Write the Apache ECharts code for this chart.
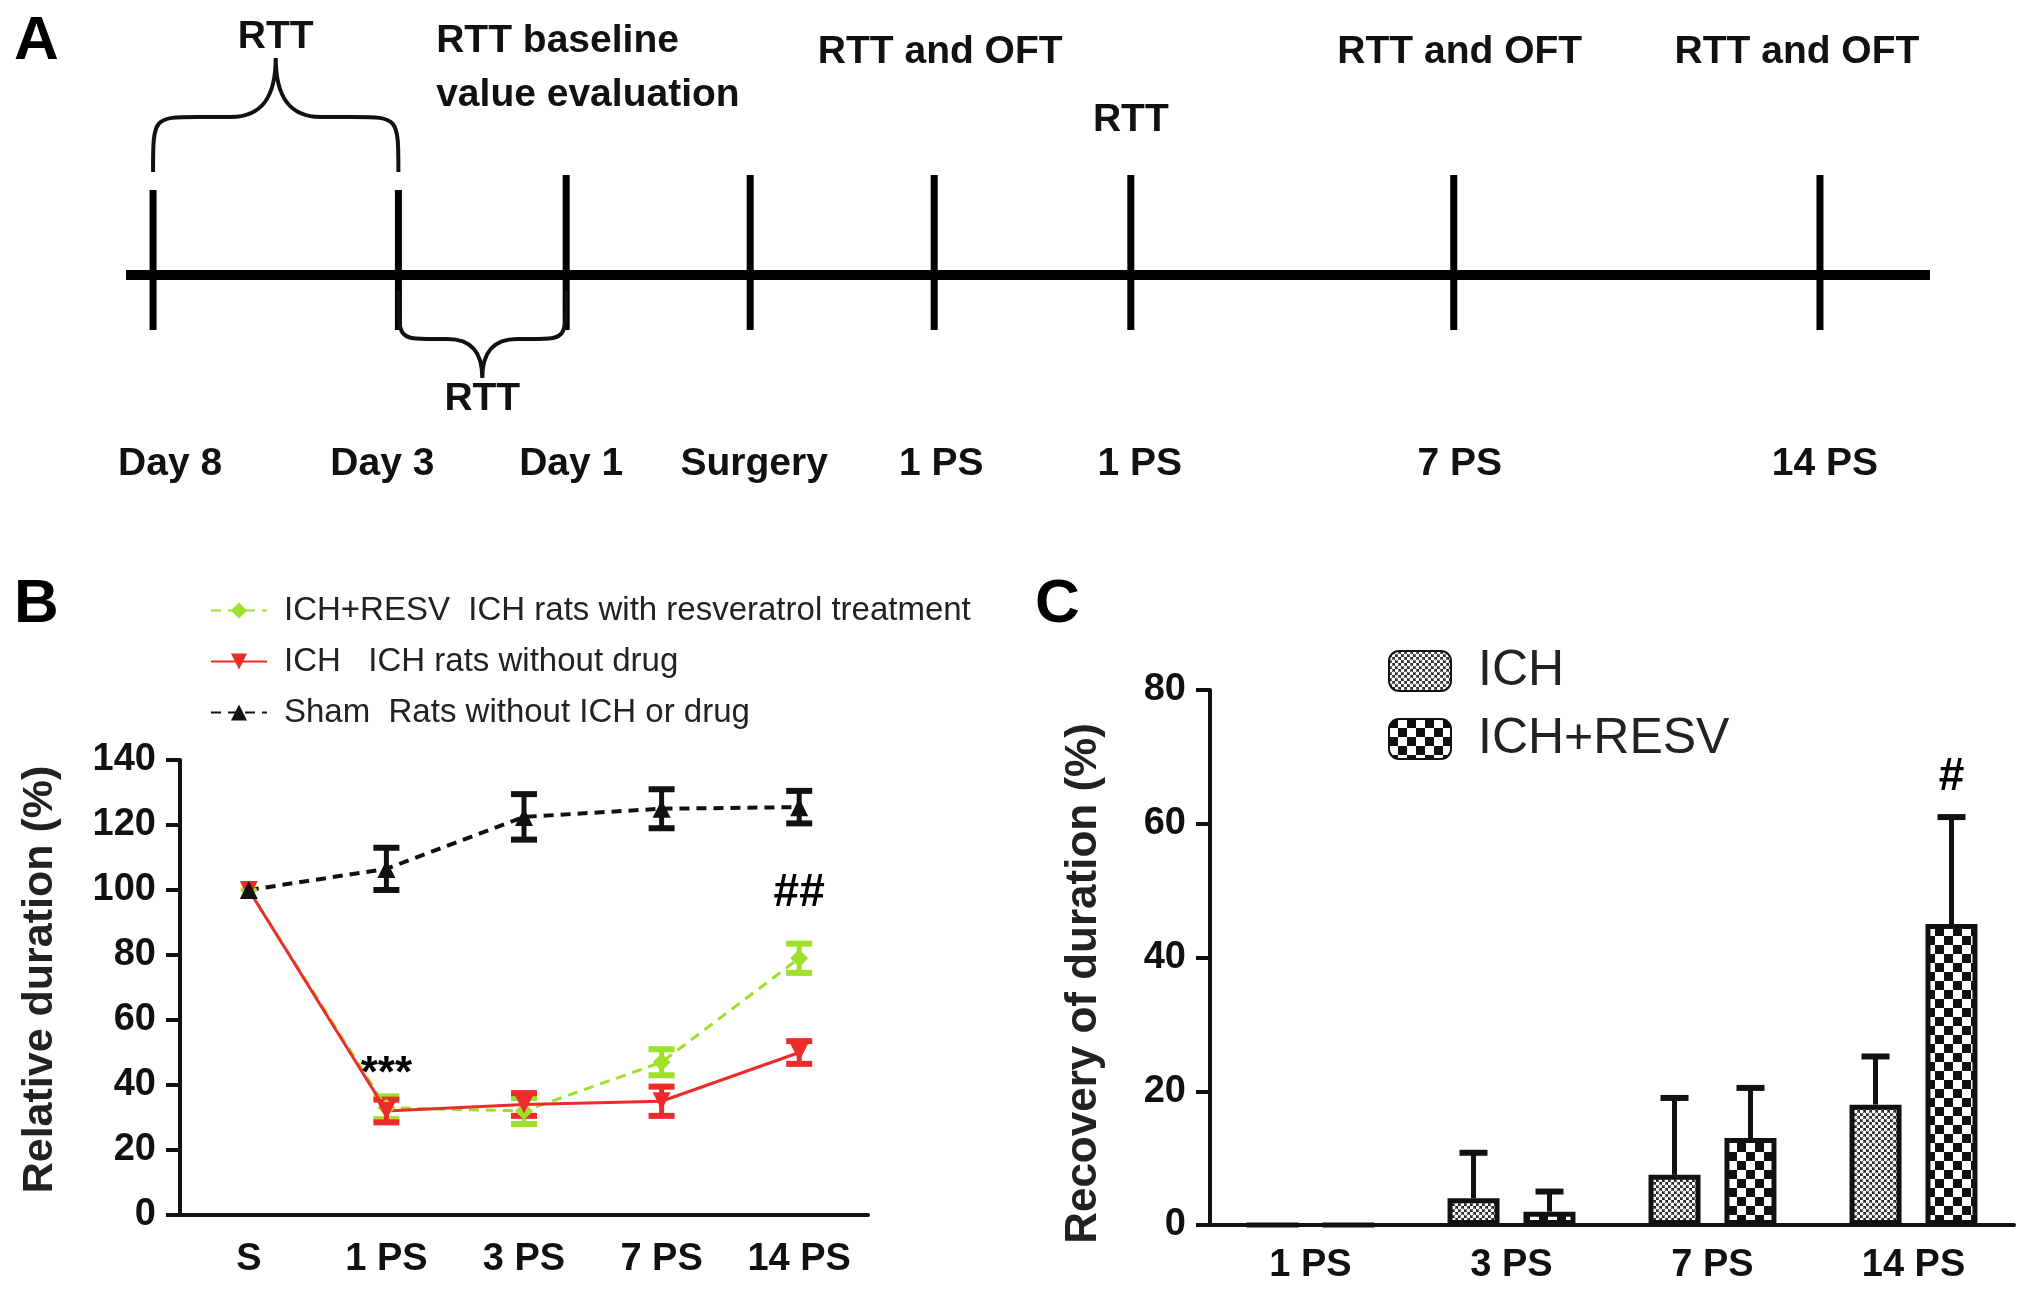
<!DOCTYPE html>
<html>
<head>
<meta charset="utf-8">
<script src="https://cdn.jsdelivr.net/npm/echarts@6/dist/echarts.min.js"></script>
<style>
  html, body { margin: 0; background: #fff; }
  #main { width: 2031px; height: 1293px; }
</style>
</head>
<body>
<div id="main"></div>
<script>
// ---- panel A: experiment timeline (position along the line, 0..100) ----
const timelinePos = [1.5, 15.1, 24.4, 34.6, 44.8, 55.7, 73.6, 93.9];
const timelineLabels = ['Day 8', 'Day 3', 'Day 1', 'Surgery', '1 PS', '1 PS', '7 PS', '14 PS'];
const noteAt = [2, 4, 5, 6, 7];
const noteText = ['RTT baseline\nvalue evaluation', 'RTT and OFT', 'RTT', 'RTT and OFT', 'RTT and OFT'];
const braceFrom = [0, 1];
const braceTo = [1, 2];
const braceSide = [1, -1]; // 1 = above the line, -1 = below
const braceText = ['RTT', 'RTT'];

// ---- panel B: relative duration (%) ----
const categoriesB = ['S', '1 PS', '3 PS', '7 PS', '14 PS'];
const resvMean = [100, 33, 32, 47, 79];
const resvSD = [0, 3.5, 4, 4, 4.5];
const ichMean = [100, 32, 34, 35, 50];
const ichSD = [0, 3.5, 3.5, 4.5, 3.5];
const shamMean = [100, 106.5, 122.5, 125, 125.5];
const shamSD = [0, 6.5, 7, 6, 5];

// ---- panel C: recovery of duration (%) ----
const categoriesC = ['1 PS', '3 PS', '7 PS', '14 PS'];
const ichRec = [0, 4, 7.5, 18];
const ichRecSD = [0, 6.8, 11.5, 7.2];
const resvRec = [0, 2, 13, 45];
const resvRecSD = [0, 3, 7.5, 16];

const FONT = '"Liberation Sans", Arial, sans-serif';
const INK = '#111';
const GREEN = '#9ee02a';
const RED = '#ee2b2b';

// small nudges of the timeline texts (px), the original figure is hand-placed
const labelShift = [17, -16, 5, 4, 7, 9, 6, 5];
const noteShift = [0, 6, 0, 6, -23];

// fill patterns for the bars
function dotPattern() {
    const c = document.createElement('canvas');
    c.width = 6; c.height = 6;
    const g = c.getContext('2d');
    g.fillStyle = '#2a2a2a';
    g.fillRect(0, 0, 6, 6);
    g.fillStyle = '#fff';
    [[1.5, 1.5], [4.5, 4.5]].forEach(function (p) {
        g.beginPath(); g.arc(p[0], p[1], 1.9, 0, Math.PI * 2); g.fill();
    });
    return c;
}
function checkPattern() {
    const c = document.createElement('canvas');
    c.width = 18; c.height = 18;
    const g = c.getContext('2d');
    g.fillStyle = '#fff';
    g.fillRect(0, 0, 18, 18);
    g.fillStyle = '#111';
    g.fillRect(0, 0, 9, 9);
    g.fillRect(9, 9, 9, 9);
    return c;
}

function errorBarsB(name, means, sds, color) {
    return {
        type: 'custom', name: name, xAxisIndex: 1, yAxisIndex: 1, silent: true, z: 3,
        data: means.map((m, i) => [i, m, sds[i]]),
        renderItem: function (params, api) {
            const i = api.value(0), m = api.value(1), s = api.value(2);
            if (!s) return;
            const t = api.coord([i, m + s]), b = api.coord([i, m - s]);
            const hw = 13;
            return {
                type: 'group', children: [
                    { type: 'line', shape: { x1: t[0], y1: t[1], x2: b[0], y2: b[1] }, style: { stroke: color, lineWidth: 5 } },
                    { type: 'line', shape: { x1: t[0] - hw, y1: t[1], x2: t[0] + hw, y2: t[1] }, style: { stroke: color, lineWidth: 6 } },
                    { type: 'line', shape: { x1: b[0] - hw, y1: b[1], x2: b[0] + hw, y2: b[1] }, style: { stroke: color, lineWidth: 6 } }
                ]
            };
        }
    };
}

function errorBarsC(means, sds, side) {
    return {
        type: 'custom', xAxisIndex: 2, yAxisIndex: 2, silent: true, z: 3,
        data: means.map((m, i) => [i, m, sds[i]]),
        renderItem: function (params, api) {
            const i = api.value(0), m = api.value(1), s = api.value(2);
            if (!s) return;
            const t = api.coord([i, m + s]), b = api.coord([i, m]);
            const x = t[0] + side * 38;
            return {
                type: 'group', children: [
                    { type: 'line', shape: { x1: x, y1: t[1], x2: x, y2: b[1] }, style: { stroke: INK, lineWidth: 5 } },
                    { type: 'line', shape: { x1: x - 14, y1: t[1], x2: x + 14, y2: t[1] }, style: { stroke: INK, lineWidth: 6 } }
                ]
            };
        }
    };
}

function markText(text, size) {
    return { show: true, formatter: text, position: 'inside', fontSize: size, fontWeight: 'bold', color: '#000', fontFamily: FONT, opacity: 1 };
}

const tickFont = { fontSize: 38, fontWeight: 'bold', color: INK, fontFamily: FONT };

let options = {
    animation: false,
    backgroundColor: '#fff',
    title: [
        { text: 'A', left: 9, top: 6 },
        { text: 'B', left: 9, top: 569 },
        { text: 'C', left: 1030, top: 569 }
    ].map(t => Object.assign(t, { textStyle: { fontSize: 62, fontWeight: 'bold', color: '#000', fontFamily: FONT } })),
    legend: [
        {
            orient: 'vertical', left: 205, top: 586,
            itemWidth: 56, itemHeight: 20, itemGap: 12,
            textStyle: { fontSize: 33, color: '#222', fontFamily: FONT, lineHeight: 39, padding: [0, 0, 0, 12] },
            data: ['ICH+RESV  ICH rats with resveratrol treatment', 'ICH   ICH rats without drug', 'Sham  Rats without ICH or drug']
        },
        {
            orient: 'vertical', left: 1383, top: 641,
            itemWidth: 62, itemHeight: 40, itemGap: 18, icon: 'roundRect',
            textStyle: { fontSize: 50, color: '#222', fontFamily: FONT, lineHeight: 44, padding: [0, 0, 0, 22] },
            data: ['ICH', 'ICH+RESV']
        }
    ],
    grid: [
        { left: 126, width: 1804, top: 0, height: 500 },
        { left: 180, width: 688, top: 760, height: 455 },
        { left: 1210, width: 804, top: 690, height: 535 }
    ],
    xAxis: [
        { gridIndex: 0, type: 'value', min: 0, max: 100, show: false },
        {
            gridIndex: 1, type: 'category', data: categoriesB, boundaryGap: true,
            axisLine: { lineStyle: { color: INK, width: 4 } },
            axisTick: { alignWithLabel: true, length: 14, lineStyle: { color: INK, width: 4 } },
            axisLabel: Object.assign({ margin: 26 }, tickFont)
        },
        {
            gridIndex: 2, type: 'category', data: categoriesC, boundaryGap: true,
            axisLine: { lineStyle: { color: INK, width: 4 } },
            axisTick: { alignWithLabel: true, length: 14, lineStyle: { color: INK, width: 4 } },
            axisLabel: Object.assign({ margin: 22 }, tickFont)
        }
    ],
    yAxis: [
        { gridIndex: 0, type: 'value', min: -2.25, max: 2.75, show: false },
        {
            gridIndex: 1, type: 'value', min: 0, max: 140, interval: 20,
            name: 'Relative duration (%)', nameLocation: 'middle', nameGap: 118,
            nameTextStyle: { fontSize: 43, fontWeight: 'bold', color: '#222', fontFamily: FONT, padding: [0, 0, 0, 16] },
            axisLine: { show: true, lineStyle: { color: INK, width: 4 } },
            axisTick: { show: true, length: 14, lineStyle: { color: INK, width: 4 } },
            splitLine: { show: false },
            axisLabel: Object.assign({ margin: 24 }, tickFont)
        },
        {
            gridIndex: 2, type: 'value', min: 0, max: 80, interval: 20,
            name: 'Recovery of duration (%)', nameLocation: 'middle', nameGap: 104,
            nameTextStyle: { fontSize: 44, fontWeight: 'bold', color: '#222', fontFamily: FONT, padding: [0, 52, 0, 0] },
            axisLine: { show: true, lineStyle: { color: INK, width: 4 } },
            axisTick: { show: true, length: 14, lineStyle: { color: INK, width: 4 } },
            splitLine: { show: false },
            axisLabel: Object.assign({ margin: 24 }, tickFont)
        }
    ],
    series: [
        // timeline bar
        {
            type: 'custom', xAxisIndex: 0, yAxisIndex: 0, silent: true,
            data: [[0, 100]],
            renderItem: function (params, api) {
                const a = api.coord([api.value(0), 0]), b = api.coord([api.value(1), 0]);
                return { type: 'line', shape: { x1: a[0], y1: a[1], x2: b[0], y2: b[1] }, style: { stroke: '#000', lineWidth: 10 } };
            }
        },
        // timeline ticks + day labels
        {
            type: 'custom', xAxisIndex: 0, yAxisIndex: 0, silent: true,
            data: timelinePos.map(p => [p, 0]),
            renderItem: function (params, api) {
                const i = params.dataIndex;
                const p = api.coord([api.value(0), 0]);
                const up = i < 2 ? 85 : 100;
                return {
                    type: 'group', children: [
                        { type: 'line', shape: { x1: p[0], y1: p[1] - up, x2: p[0], y2: p[1] + 55 }, style: { stroke: '#000', lineWidth: 7 } },
                        { type: 'text', x: p[0] + labelShift[i], y: p[1] + 189, style: { text: timelineLabels[i], fontSize: 39, fontWeight: 'bold', fontFamily: FONT, fill: INK, align: 'center', verticalAlign: 'middle' } }
                    ]
                };
            }
        },
        // braces
        {
            type: 'custom', xAxisIndex: 0, yAxisIndex: 0, silent: true,
            data: braceFrom.map((f, k) => [timelinePos[f], timelinePos[braceTo[k]], braceSide[k]]),
            renderItem: function (params, api) {
                const a = api.coord([api.value(0), 0]), b = api.coord([api.value(1), 0]);
                const up = api.value(2) > 0;
                const s = up ? -1 : 1;
                const base = a[1];
                const yE = base + s * (up ? 103 : 16);
                const yF = base + s * (up ? 158 : 64);
                const yP = base + s * (up ? 217 : 103);
                const dh = Math.abs(yP - yF);
                const x0 = a[0], x1 = b[0], xm = (x0 + x1) / 2;
                const q = up ? 45 : 35, p = up ? 45 : 35;
                const mid = yF + s * dh * 0.35;
                const d = 'M' + x0 + ',' + yE +
                    ' C' + x0 + ',' + yF + ' ' + x0 + ',' + yF + ' ' + (x0 + q) + ',' + yF +
                    ' L' + (xm - p) + ',' + yF +
                    ' C' + (xm - p * 0.3) + ',' + yF + ' ' + xm + ',' + mid + ' ' + xm + ',' + yP +
                    ' C' + xm + ',' + mid + ' ' + (xm + p * 0.3) + ',' + yF + ' ' + (xm + p) + ',' + yF +
                    ' L' + (x1 - q) + ',' + yF +
                    ' C' + x1 + ',' + yF + ' ' + x1 + ',' + yF + ' ' + x1 + ',' + yE;
                return {
                    type: 'group', children: [
                        { type: 'path', shape: { pathData: d }, style: { stroke: INK, lineWidth: 4, fill: 'none' } },
                        { type: 'text', x: xm, y: yP + s * 21, style: { text: braceText[params.dataIndex], fontSize: 39, fontWeight: 'bold', fontFamily: FONT, fill: INK, align: 'center', verticalAlign: 'middle' } }
                    ]
                };
            }
        },
        // notes above the ticks
        {
            type: 'custom', xAxisIndex: 0, yAxisIndex: 0, silent: true,
            data: noteAt.map(k => [timelinePos[k], 0]),
            renderItem: function (params, api) {
                const i = params.dataIndex;
                const p = api.coord([api.value(0), 0]);
                const text = noteText[i];
                let x = p[0] + noteShift[i], y = p[1] - 223, align = 'center';
                if (text.indexOf('\n') >= 0) { x = p[0] - 130; y = p[1] - 207; align = 'left'; }
                else if (text === 'RTT') { y = p[1] - 155; }
                return { type: 'text', x: x, y: y, style: { text: text, fontSize: 39, fontWeight: 'bold', fontFamily: FONT, fill: INK, align: align, verticalAlign: 'middle', lineHeight: 54 } };
            }
        },

        // panel B lines
        {
            name: 'ICH+RESV  ICH rats with resveratrol treatment', type: 'line', xAxisIndex: 1, yAxisIndex: 1,
            data: resvMean, symbol: 'diamond', symbolSize: 18, z: 4,
            itemStyle: { color: GREEN }, lineStyle: { color: GREEN, width: 3, type: [10, 7] }
        },
        errorBarsB('resv-err', resvMean, resvSD, GREEN),
        {
            name: 'ICH   ICH rats without drug', type: 'line', xAxisIndex: 1, yAxisIndex: 1,
            data: ichMean, symbol: 'triangle', symbolRotate: 180, symbolSize: 18, z: 4,
            itemStyle: { color: RED }, lineStyle: { color: RED, width: 3 }
        },
        errorBarsB('ich-err', ichMean, ichSD, RED),
        {
            name: 'Sham  Rats without ICH or drug', type: 'line', xAxisIndex: 1, yAxisIndex: 1,
            data: shamMean, symbol: 'triangle', symbolSize: 18, z: 4,
            itemStyle: { color: INK }, lineStyle: { color: INK, width: 4, type: [10, 7] }
        },
        errorBarsB('sham-err', shamMean, shamSD, INK),
        {
            type: 'scatter', xAxisIndex: 1, yAxisIndex: 1, silent: true, symbolSize: 1, z: 6,
            itemStyle: { opacity: 1, color: 'rgba(0,0,0,0)' },
            data: [
                { value: ['1 PS', 43], label: markText('***', 44) },
                { value: ['14 PS', 99], label: markText('##', 46) }
            ]
        },

        // panel C bars
        {
            name: 'ICH', type: 'bar', xAxisIndex: 2, yAxisIndex: 2,
            data: ichRec, barWidth: 52, barGap: '46%',
            itemStyle: { color: { image: dotPattern(), repeat: 'repeat' }, borderColor: INK, borderWidth: 5 }
        },
        {
            name: 'ICH+RESV', type: 'bar', xAxisIndex: 2, yAxisIndex: 2,
            data: resvRec, barWidth: 52, barGap: '46%',
            itemStyle: { color: { image: checkPattern(), repeat: 'repeat' }, borderColor: INK, borderWidth: 5 }
        },
        errorBarsC(ichRec, ichRecSD, -1),
        errorBarsC(resvRec, resvRecSD, 1),
        {
            type: 'scatter', xAxisIndex: 2, yAxisIndex: 2, silent: true, symbolSize: 1, z: 6,
            itemStyle: { opacity: 1, color: 'rgba(0,0,0,0)' },
            data: [{ value: ['14 PS', 67], label: Object.assign(markText('#', 46), { offset: [38, 0] }) }]
        }
    ]
};

let myChart = echarts.init(document.getElementById('main'), null, { renderer: 'canvas' });
myChart.setOption(options);
</script>
</body>
</html>
